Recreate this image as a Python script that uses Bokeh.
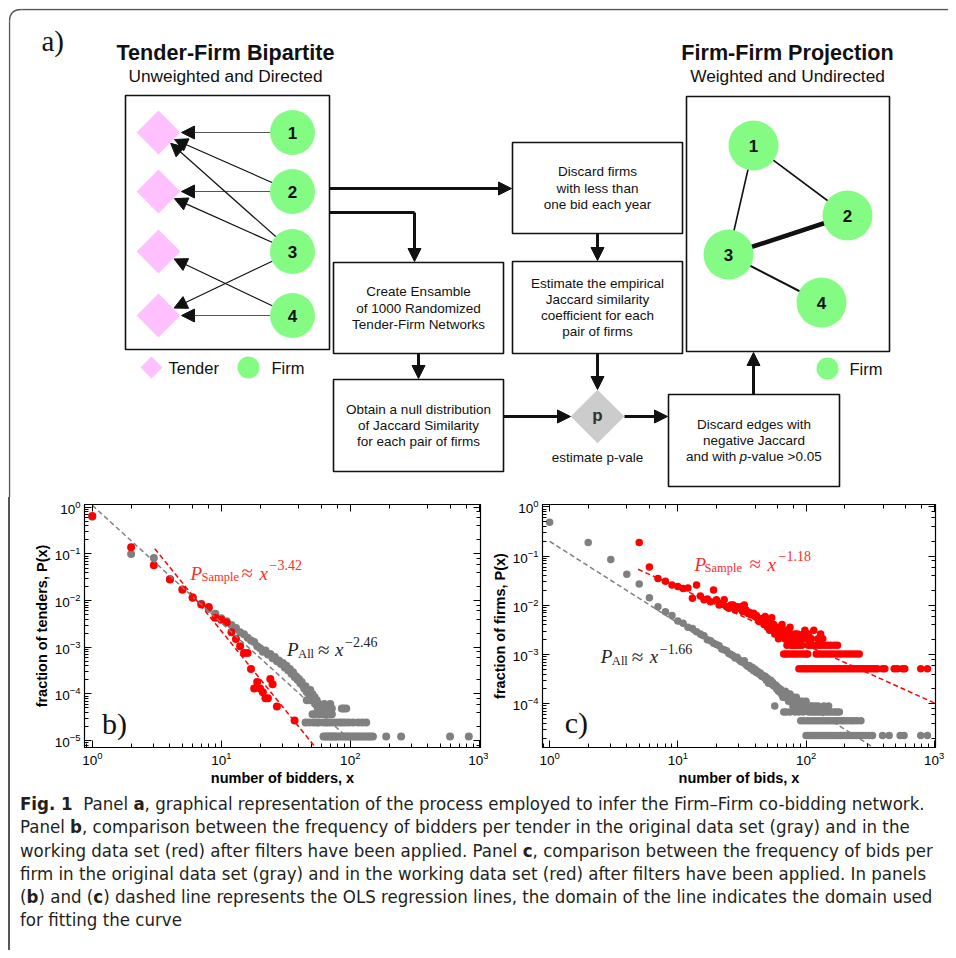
import math
from bokeh.plotting import figure
from bokeh.models import Range1d, Arrow, NormalHead, LogAxis, CustomJSTickFormatter, Div, Spacer
from bokeh.layouts import column, row
from bokeh.embed import file_html
from bokeh.resources import INLINE
from bokeh.core.properties import value

SANS = "Liberation Sans"
SERIF = "Liberation Serif"
PINK = "#ffc0ff"
GREEN = "#84fc84"
GRAY = "#808080"
RED = "#ff0000"

# ---------------- panel a: diagram layout ----------------
TENDER_X = 158
TENDER_Y = [132, 191, 251, 315]
FIRM_X = 292
FIRM_Y = [132, 191, 251, 315]
FIRM_LABELS = ["1", "2", "3", "4"]
BIP_EDGES_FIRM = [1, 2, 2, 3, 3, 3, 4, 4]
BIP_EDGES_TENDER = [1, 1, 2, 1, 2, 4, 3, 4]

PROJ_X = [753, 847, 728, 821]
PROJ_Y = [145, 215, 254, 302]
PROJ_EDGE_A = [1, 1, 2, 3]
PROJ_EDGE_B = [2, 3, 3, 4]
PROJ_EDGE_W = [1.6, 1.6, 4.5, 2.0]

BOX_L = [125, 686, 333, 333, 512, 512, 668]
BOX_R = [329, 889, 503, 503, 682, 682, 839]
BOX_T = [95, 96, 262, 379, 142, 261, 394]
BOX_B = [349, 351, 353, 471, 233, 353, 486]
BOX_TEXT = [
    None, None,
    ["Create Ensamble", "of 1000 Randomized", "Tender-Firm Networks"],
    ["Obtain a null distribution", "of Jaccard Similarity", "for each pair of firms"],
    ["Discard firms", "with less than", "one bid each year"],
    ["Estimate the empirical", "Jaccard similarity", "coefficient for each", "pair of firms"],
    ["Discard edges with", "negative Jaccard", None],
]

# ---------------- panel b data ----------------
B_ALL_X = [1, 2, 3, 4, 5, 6, 7, 8, 9, 10, 11, 12, 13, 14, 15, 16, 17, 18, 19, 20,
           21, 22, 23, 24, 25, 26, 27, 28, 29, 30, 31, 32, 33, 34, 35, 36, 37, 38, 39, 40,
           41, 42, 43, 44, 45, 46, 47, 48, 49, 50, 51, 52, 53, 54, 55, 56, 57, 58, 59, 60,
           46, 48, 50, 63, 70,
           62, 67, 72, 86, 89, 93,
           51, 53, 63, 66, 69, 72,
           45, 48, 52, 55, 57, 62, 65, 68, 72, 77, 82, 86, 91, 97, 105, 115, 124, 133,
           62, 64, 66, 68, 70, 72, 74, 76, 78, 81, 84, 87, 90, 93, 96, 99, 103, 107, 111,
           115, 119, 124, 129, 134, 139, 144, 150, 190, 248, 594, 830]
B_ALL_Y = [0.63, 0.10, 0.082, 0.029, 0.017, 0.0118, 0.0086, 0.0066, 0.0052, 0.0042,
           0.0036, 0.0030, 0.0026, 0.0021, 0.0019, 0.0016, 0.0014, 0.0013, 0.00105, 0.00095,
           0.0008, 0.00085, 0.0007, 0.00072, 0.00058, 0.00062, 0.0005, 0.00052, 0.00044, 0.00046,
           0.00037, 0.0004, 0.00032, 0.00034, 0.00027, 0.00029, 0.00023, 0.00024, 0.0002, 0.00021,
           0.00017, 0.00018, 0.00015, 0.00013, 0.000146, 0.00011, 0.00012, 0.000098, 0.000122, 0.000085,
           0.000098, 0.000073, 0.000085, 0.000061, 0.000073, 0.000049, 0.000061, 0.0000366, 0.000049, 0.0000366,
           0.000073, 0.000073, 0.000073, 0.000061, 0.000061,
           0.0000488, 0.0000488, 0.0000488, 0.0000488, 0.0000488, 0.0000488,
           0.0000366, 0.0000366, 0.0000366, 0.0000366, 0.0000366, 0.0000366,
           0.0000244, 0.0000244, 0.0000244, 0.0000244, 0.0000244, 0.0000244, 0.0000244, 0.0000244, 0.0000244,
           0.0000244, 0.0000244, 0.0000244, 0.0000244, 0.0000244, 0.0000244, 0.0000244, 0.0000244, 0.0000244,
           0.0000122, 0.0000122, 0.0000122, 0.0000122, 0.0000122, 0.0000122, 0.0000122, 0.0000122, 0.0000122,
           0.0000122, 0.0000122, 0.0000122, 0.0000122, 0.0000122, 0.0000122, 0.0000122, 0.0000122, 0.0000122,
           0.0000122, 0.0000122, 0.0000122, 0.0000122, 0.0000122, 0.0000122, 0.0000122, 0.0000122, 0.0000122,
           0.0000122, 0.0000122, 0.0000122, 0.0000122]
B_SAMPLE_X = [1, 2, 3, 4, 5, 6, 7, 8, 9, 10, 11, 12, 13, 14, 15, 16, 17, 18, 19, 20,
              21, 22, 23, 24, 25, 27, 37]
B_SAMPLE_Y = [0.65, 0.14, 0.057, 0.0285, 0.0174, 0.0115, 0.0083, 0.0073, 0.0043, 0.0039,
              0.0034, 0.0021, 0.0015, 0.00105, 0.00075, 0.00075, 0.00034, 0.00013, 0.00018, 0.00013,
              0.000108, 0.000081, 0.000081, 0.00021, 0.000162, 0.000054, 0.000027]
B_FIT_ALL_X = [1, 91]
B_FIT_ALL_Y = [1.1, 1.3e-5]
B_FIT_SAMPLE_X = [3.05, 60]
B_FIT_SAMPLE_Y = [0.13, 4.9e-6]

# ---------------- panel c data ----------------
C_ALL_X = [1, 2, 3, 4, 5, 6, 7, 8, 9, 10, 11, 12, 13, 14, 15, 16, 17, 18, 19, 20,
           21, 22, 23, 24, 25, 26, 27, 28, 29, 30, 31, 32, 33, 34, 35, 36, 37, 38, 39, 40,
           41, 42, 43, 44, 45, 46, 47, 48, 49, 50, 51, 52, 53, 54, 55, 56, 57, 58, 59, 60,
           61, 62, 63, 64, 65, 66, 67, 68, 69, 70, 71, 72, 73, 74, 75, 76, 77, 78, 79, 80,
           81, 82, 84, 85, 86, 87, 88, 90, 92, 94, 97, 100, 103, 108, 112, 118, 124, 138, 150,
           67, 70, 75, 82, 88, 95, 105, 110, 115, 120, 126, 132, 138, 145, 152, 160, 168, 175, 182,
           91, 96, 102, 108, 114, 120, 127, 134, 141, 148, 156, 164, 172, 180, 190, 200, 212, 224, 236, 250, 268,
           100, 104, 108, 112, 117, 122, 127, 132, 138, 144, 150, 157, 164, 171, 179, 187, 196,
           205, 215, 226, 238, 250, 263, 277, 292, 310, 330, 395, 445, 542, 582, 785, 885]
C_ALL_Y = [0.49, 0.19, 0.085, 0.043, 0.027, 0.0143, 0.0094, 0.0074, 0.0062, 0.0048,
           0.0043, 0.0036, 0.0034, 0.0029, 0.0026, 0.0024, 0.0020, 0.0019, 0.0017, 0.0016,
           0.0015, 0.0013, 0.00125, 0.0012, 0.00105, 0.001, 0.00095, 0.00085, 0.00088, 0.00078,
           0.00072, 0.0007, 0.00075, 0.00062, 0.00058, 0.0006, 0.00052, 0.00055, 0.00047, 0.0005,
           0.00043, 0.00045, 0.0004, 0.00042, 0.00036, 0.00038, 0.00034, 0.00036, 0.0003, 0.00033,
           0.00026, 0.00028, 0.0003, 0.00025, 0.00027, 0.00023, 0.00009, 0.00024, 0.0002, 0.00022,
           0.00018, 0.00018, 0.0002, 0.00016, 0.00018, 0.000136, 0.00016, 0.000136, 0.00018, 0.000136,
           0.000158, 0.000158, 0.000113, 0.000136, 0.000158, 0.000113, 0.000136, 0.000136, 0.00009, 0.000136,
           0.000113, 0.000113, 0.000136, 0.00009, 0.000113, 0.00009, 0.00009, 0.000113, 0.00009, 0.000113,
           0.00009, 0.000113, 0.00009, 0.00009, 0.00009, 0.00009, 0.00009, 0.00009, 0.00009,
           0.000068, 0.000068, 0.000068, 0.000068, 0.000068, 0.000068, 0.000068, 0.000068, 0.000068, 0.000068,
           0.000068, 0.000068, 0.000068, 0.000068, 0.000068, 0.000068, 0.000068, 0.000068, 0.000068,
           0.000045, 0.000045, 0.000045, 0.000045, 0.000045, 0.000045, 0.000045, 0.000045, 0.000045, 0.000045,
           0.000045, 0.000045, 0.000045, 0.000045, 0.000045, 0.000045, 0.000045, 0.000045, 0.000045, 0.000045,
           0.000045,
           0.0000226, 0.0000226, 0.0000226, 0.0000226, 0.0000226, 0.0000226, 0.0000226, 0.0000226, 0.0000226,
           0.0000226, 0.0000226, 0.0000226, 0.0000226, 0.0000226, 0.0000226, 0.0000226, 0.0000226, 0.0000226,
           0.0000226, 0.0000226, 0.0000226, 0.0000226, 0.0000226, 0.0000226, 0.0000226, 0.0000226, 0.0000226,
           0.0000226, 0.0000226, 0.0000226, 0.0000226, 0.0000226, 0.0000226]
C_SAMPLE_X = [5, 6, 7, 8, 9, 10, 11, 12, 13, 14, 15, 16, 17, 18, 19, 20,
              21, 22, 23, 24, 25, 26, 27, 28, 29, 30, 31, 32, 33, 34, 35, 36, 37, 38, 39, 40,
              41, 42, 43, 44, 45, 46, 47, 48, 49, 50, 51, 52, 53, 54, 55, 56, 57, 58, 59, 60,
              61, 62, 63, 64, 65, 66, 67, 68, 69, 70, 71, 72, 73, 74, 75, 77, 78, 79, 80,
              82, 84, 86, 88, 90, 92, 95, 98, 100, 105, 107, 110, 115, 124, 130, 135,
              76, 80, 84, 93, 104, 110, 117, 124, 131, 139, 147, 156, 166, 176,
              67, 70, 73, 77, 81, 85, 90, 95, 100, 103, 120, 126, 133, 140, 148, 156, 165,
              175, 185, 196, 208, 220, 233, 246, 260,
              88, 92, 96, 100, 104, 109, 114, 119, 124, 130, 136, 142, 148, 155, 162, 169,
              177, 185, 193, 202, 211, 221, 231, 242, 253, 264, 276, 289, 302, 316, 330, 345,
              360, 395, 412, 487, 517, 566, 589, 785, 885]
C_SAMPLE_Y = [0.19, 0.06, 0.035, 0.031, 0.026, 0.024, 0.022, 0.0225, 0.014, 0.026, 0.0155, 0.013,
              0.0134, 0.0118, 0.0204, 0.013,
              0.0101, 0.011, 0.013, 0.0094, 0.0087, 0.0101, 0.0101, 0.008, 0.0094, 0.0087,
              0.0094, 0.0075, 0.0101, 0.008, 0.0069, 0.0072, 0.0064, 0.0064, 0.0069, 0.0059,
              0.0062, 0.0054, 0.0047, 0.0051, 0.0054, 0.0046, 0.0041, 0.0059, 0.0043, 0.0036,
              0.0046, 0.0031, 0.0041, 0.0056, 0.0031, 0.0041, 0.0026, 0.0031, 0.0036, 0.0026,
              0.0021, 0.0036, 0.0026, 0.0031, 0.0041, 0.0026, 0.0031, 0.0021, 0.0031, 0.0026,
              0.00154, 0.0021, 0.0026, 0.0021, 0.0036, 0.0026, 0.0021, 0.00154, 0.0021,
              0.0026, 0.0021, 0.0026, 0.00154, 0.0021, 0.0021, 0.0026, 0.0031, 0.0021, 0.0026,
              0.0021, 0.0021, 0.0031, 0.0021, 0.0026, 0.0021,
              0.00154, 0.00154, 0.00154, 0.00154, 0.00154, 0.00154, 0.00154, 0.00154, 0.00154,
              0.00154, 0.00154, 0.00154, 0.00154, 0.00154,
              0.00103, 0.00103, 0.00103, 0.00103, 0.00103, 0.00103, 0.00103, 0.00103, 0.00103,
              0.00103, 0.00103, 0.00103, 0.00103, 0.00103, 0.00103, 0.00103, 0.00103, 0.00103,
              0.00103, 0.00103, 0.00103, 0.00103, 0.00103, 0.00103, 0.00103,
              0.000513, 0.000513, 0.000513, 0.000513, 0.000513, 0.000513, 0.000513, 0.000513,
              0.000513, 0.000513, 0.000513, 0.000513, 0.000513, 0.000513, 0.000513, 0.000513,
              0.000513, 0.000513, 0.000513, 0.000513, 0.000513, 0.000513, 0.000513, 0.000513,
              0.000513, 0.000513, 0.000513, 0.000513, 0.000513, 0.000513, 0.000513, 0.000513,
              0.000513, 0.000513, 0.000513, 0.000513, 0.000513, 0.000513, 0.000513, 0.000513,
              0.000513]
C_FIT_ALL_X = [1, 400]
C_FIT_ALL_Y = [0.2, 9.6e-6]
C_FIT_SAMPLE_X = [4.9, 1000]
C_FIT_SAMPLE_Y = [0.054, 1.04e-4]

CAPTION_LINES = [
    "<b>Fig. 1</b>&nbsp; Panel <b>a</b>, graphical representation of the process employed to infer the Firm\u2013Firm co-bidding network.",
    "Panel <b>b</b>, comparison between the frequency of bidders per tender in the original data set (gray) and in the",
    "working data set (red) after filters have been applied. Panel <b>c</b>, comparison between the frequency of bids per",
    "firm in the original data set (gray) and in the working data set (red) after filters have been applied. In panels",
    "(<b>b</b>) and (<b>c</b>) dashed line represents the OLS regression lines, the domain of the line indicates the domain used",
    "for fitting the curve",
]

# =====================================================================
pa = figure(width=940, height=489, x_range=Range1d(8, 948), y_range=Range1d(497, 8),
            x_axis_type=None, y_axis_type=None, toolbar_location=None,
            output_backend="svg", min_border=0, outline_line_color=None)
pa.background_fill_color = "white"

FRAME = "#555555"
pa.line([9, 9], [21, 497], line_color=FRAME, line_width=1.4)
pa.line([21, 948], [9, 9], line_color=FRAME, line_width=1.4)
pa.quadratic(x0=[9], y0=[21], x1=[21], y1=[9], cx=[9], cy=[9], line_color=FRAME, line_width=1.4)

pa.text(x=[41], y=[40], text=["a)"], text_font=value(SERIF), text_font_size="29px",
        text_align="left", text_baseline="middle", text_color="#111")
pa.text(x=[225, 787], y=[52, 52], text=["Tender-Firm Bipartite", "Firm-Firm Projection"],
        text_font=value(SANS), text_font_style="bold", text_font_size="21.6px",
        text_align="center", text_baseline="middle", text_color="#111")
pa.text(x=[225, 787], y=[75, 75], text=["Unweighted and Directed", "Weighted and Undirected"],
        text_font=value(SANS), text_font_size="17.3px",
        text_align="center", text_baseline="middle", text_color="#111")

pa.quad(left=BOX_L, right=BOX_R, top=BOX_T, bottom=BOX_B, fill_color="white",
        line_color="#111", line_width=1.6)

bx, by, bt = [], [], []
for l, r, t, b, lines in zip(BOX_L, BOX_R, BOX_T, BOX_B, BOX_TEXT):
    if not lines:
        continue
    cx = (l + r) / 2
    cy = (t + b) / 2
    n = len(lines)
    for k, s in enumerate(lines):
        if s is None:
            continue
        bx.append(cx)
        by.append(cy + (k - (n - 1) / 2) * 16.3)
        bt.append(s)
pa.text(x=bx, y=by, text=bt, text_font=value(SANS), text_font_size="13.5px",
        text_align="center", text_baseline="middle", text_color="#111")
# third line of last box with italic p
el, er, et, eb = BOX_L[6], BOX_R[6], BOX_T[6], BOX_B[6]
ecx = (el + er) / 2
ecy = (et + eb) / 2 + 16.3
pa.text(x=[ecx - 68], y=[ecy], text=["and with"], text_font=value(SANS), text_font_size="13.5px",
        text_align="left", text_baseline="middle", text_color="#111")
pa.text(x=[ecx - 14.5], y=[ecy], text=["p"], text_font=value(SANS), text_font_style="italic",
        text_font_size="13.5px", text_align="left", text_baseline="middle", text_color="#111")
pa.text(x=[ecx - 7], y=[ecy], text=["-value >0.05"], text_font=value(SANS), text_font_size="13.5px",
        text_align="left", text_baseline="middle", text_color="#111")

# bipartite arrows
RF = 22.5
HD = 23
for f, t in zip(BIP_EDGES_FIRM, BIP_EDGES_TENDER):
    x0, y0 = FIRM_X, FIRM_Y[f - 1]
    x1, y1 = TENDER_X, TENDER_Y[t - 1]
    dx, dy = x1 - x0, y1 - y0
    d = math.hypot(dx, dy)
    ux, uy = dx / d, dy / d
    sx, sy = x0 + ux * RF, y0 + uy * RF
    k = HD / (abs(ux) + abs(uy))
    ex, ey = x1 - ux * k, y1 - uy * k
    col = "#555555" if dy == 0 else "#111111"
    pa.add_layout(Arrow(end=NormalHead(size=13, fill_color="#111", line_color="#111", line_width=1),
                        x_start=sx, y_start=sy, x_end=ex, y_end=ey,
                        line_color=col, line_width=1.2))

pa.scatter(x=[TENDER_X] * 4, y=TENDER_Y, marker="square", angle=math.pi / 4, size=31,
           fill_color=PINK, line_color=None)
pa.scatter(x=[FIRM_X] * 4, y=FIRM_Y, marker="circle", size=45, fill_color=GREEN, line_color=None)
pa.text(x=[FIRM_X] * 4, y=FIRM_Y, text=FIRM_LABELS, text_font=value(SANS), text_font_style="bold",
        text_font_size="17px", text_align="center", text_baseline="middle", text_color="#111")

# projection network
for a, b, w in zip(PROJ_EDGE_A, PROJ_EDGE_B, PROJ_EDGE_W):
    pa.line([PROJ_X[a - 1], PROJ_X[b - 1]], [PROJ_Y[a - 1], PROJ_Y[b - 1]], line_color="#111", line_width=w)
pa.scatter(x=PROJ_X, y=PROJ_Y, marker="circle", size=50, fill_color=GREEN, line_color=None)
pa.text(x=PROJ_X, y=PROJ_Y, text=FIRM_LABELS, text_font=value(SANS), text_font_style="bold",
        text_font_size="17px", text_align="center", text_baseline="middle", text_color="#111")

# legends
pa.scatter(x=[151], y=[367], marker="square", angle=math.pi / 4, size=15.5, fill_color=PINK, line_color=None)
pa.scatter(x=[248, 827], y=[367, 368], marker="circle", size=22, fill_color=GREEN, line_color=None)
pa.text(x=[168, 271, 849], y=[367, 367, 368], text=["Tender", "Firm", "Firm"], text_font=value(SANS),
        text_font_size="16.5px", text_align="left", text_baseline="middle", text_color="#111")

# thick flow arrows
pa.line([329, 414], [212, 212], line_color="#111", line_width=3)
FLOW = [(329, 188, 511, 188), (414, 212, 414, 261), (418, 353, 418, 378), (597, 233, 597, 260),
        (597, 353, 597, 389), (503, 416, 570, 416), (624, 416, 667, 416), (753, 394, 753, 352)]
for x0, y0, x1, y1 in FLOW:
    pa.add_layout(Arrow(end=NormalHead(size=13, fill_color="#111", line_color="#111", line_width=1),
                        x_start=x0, y_start=y0, x_end=x1, y_end=y1, line_color="#111", line_width=3))

pa.scatter(x=[597], y=[416], marker="square", angle=math.pi / 4, size=38, fill_color="#cccccc", line_color=None)
pa.text(x=[597], y=[415], text=["p"], text_font=value(SANS), text_font_style="bold", text_font_size="17px",
        text_align="center", text_baseline="middle", text_color="#333")
pa.text(x=[597], y=[457], text=["estimate p-vale"], text_font=value(SANS), text_font_size="13.5px",
        text_align="center", text_baseline="middle", text_color="#111")


# =====================================================================
def style_axis(ax):
    ax.axis_line_color = "black"
    ax.major_tick_in = 7
    ax.major_tick_out = 0
    ax.minor_tick_in = 4
    ax.minor_tick_out = 0
    ax.major_tick_line_color = "black"
    ax.minor_tick_line_color = "black"
    ax.major_label_text_font = SANS
    ax.major_label_text_font_size = "13.5px"
    ax.major_label_text_color = "black"
    ax.major_label_standoff = 4
    ax.axis_label_text_font = SANS
    ax.axis_label_text_font_style = "bold"
    ax.axis_label_text_font_size = "14.5px"
    ax.axis_label_text_color = "black"
    ax.axis_label_standoff = 2


def loglog(width, mbl, mbr, xr, yr, xlabel, ylabel):
    p = figure(width=width, height=296, x_axis_type="log", y_axis_type="log",
               x_range=Range1d(*xr), y_range=Range1d(*yr),
               min_border_left=mbl, min_border_right=mbr, min_border_top=7, min_border_bottom=46,
               toolbar_location=None, output_backend="svg")
    p.grid.visible = False
    p.outline_line_color = "black"
    p.outline_line_width = 1.2
    p.xaxis.axis_label = xlabel
    p.yaxis.axis_label = ylabel
    for ax in p.axis:
        style_axis(ax)
    for loc in ("above", "right"):
        ax = LogAxis(formatter=CustomJSTickFormatter(code="return ''"))
        style_axis(ax)
        ax.major_label_text_font_size = "0px"
        ax.major_label_standoff = 0
        p.add_layout(ax, loc)
    return p


def math_label(p, x, y, color, pieces):
    for txt, dx, dy, size, italic in pieces:
        p.text(x=[x], y=[y], text=[txt], x_offset=dx, y_offset=dy, text_font=value(SERIF),
               text_font_style="italic" if italic else "normal", text_font_size=f"{size}px",
               text_align="left", text_baseline="alphabetic", text_color=color)


pb = loglog(478, 74, 8, (0.87, 1023), (7.1e-6, 1.15), "number of bidders, x", "fraction of tenders, P(x)")
pb.scatter(B_ALL_X, B_ALL_Y, size=8, fill_color=GRAY, line_color=None)
pb.scatter(B_SAMPLE_X, B_SAMPLE_Y, size=8, fill_color=RED, line_color=None)
pb.line(B_FIT_ALL_X, B_FIT_ALL_Y, line_color=GRAY, line_width=1.5, line_dash="5 3")
pb.line(B_FIT_SAMPLE_X, B_FIT_SAMPLE_Y, line_color=RED, line_width=1.5, line_dash="5 3")
math_label(pb, 5.78, 0.0384, "#ff2a2a",
           [("P", 0, 0, 19, True), ("Sample", 11, 4, 12.5, False), ("\u2248", 51, 0, 21, False),
            ("x", 69, 0, 19, True), ("\u22123.42", 79, -8, 14, False)])
math_label(pb, 32.4, 8.8e-4, "#222222",
           [("P", 0, 0, 19, True), ("All", 11, 4, 12.5, False), ("\u2248", 31, 0, 21, False),
            ("x", 48, 0, 19, True), ("\u22122.46", 58, -8, 14, False)])
pb.text(x=[1.19], y=[2.32e-5], text=["b)"], text_font=value(SERIF), text_font_size="30px",
        text_align="left", text_baseline="alphabetic", text_color="#111")

pc = loglog(460, 54, 13, (0.88, 1023), (1.29e-5, 1.12), "number of bids, x", "fraction of firms, P(x)")
pc.scatter(C_ALL_X, C_ALL_Y, size=7.5, fill_color=GRAY, line_color=None)
pc.scatter(C_SAMPLE_X, C_SAMPLE_Y, size=7.5, fill_color=RED, line_color=None)
pc.line(C_FIT_ALL_X, C_FIT_ALL_Y, line_color=GRAY, line_width=1.5, line_dash="5 3")
pc.line(C_FIT_SAMPLE_X, C_FIT_SAMPLE_Y, line_color=RED, line_width=1.5, line_dash="5 3")
math_label(pc, 13.5, 0.0686, "#ff2a2a",
           [("P", 0, 0, 19, True), ("Sample", 10, 4, 12.5, False), ("\u2248", 55, 0, 21, False),
            ("x", 73, 0, 19, True), ("\u22121.18", 84, -8, 14, False)])
math_label(pc, 2.51, 9.1e-4, "#222222",
           [("P", 0, 0, 19, True), ("All", 11, 4, 12.5, False), ("\u2248", 31, 0, 21, False),
            ("x", 49, 0, 19, True), ("\u22121.66", 59, -8, 14, False)])
pc.text(x=[1.31], y=[4.14e-5], text=["c)"], text_font=value(SERIF), text_font_size="30px",
        text_align="left", text_baseline="alphabetic", text_color="#111")

caption_html = ("<div style=\"font-family: 'DejaVu Sans Condensed', 'DejaVu Sans', sans-serif;"
                " font-stretch: condensed; font-size: 18.5px; line-height: 23.3px; color: #231f20;"
                " white-space: nowrap; padding-left: 5px; margin-top: -6px;\">"
                + "<br>".join(CAPTION_LINES) + "</div>")
cap = Div(text=caption_html, width=938, height=157)

bar1 = Spacer(width=2, height=296, styles={"background-color": FRAME})
bar2 = Spacer(width=2, height=157, styles={"background-color": FRAME})

layout = column(pa, row(bar1, pb, pc), row(bar2, cap), margin=(8, 8, 8, 8))
open("out.html", "w").write(file_html(layout, INLINE))
